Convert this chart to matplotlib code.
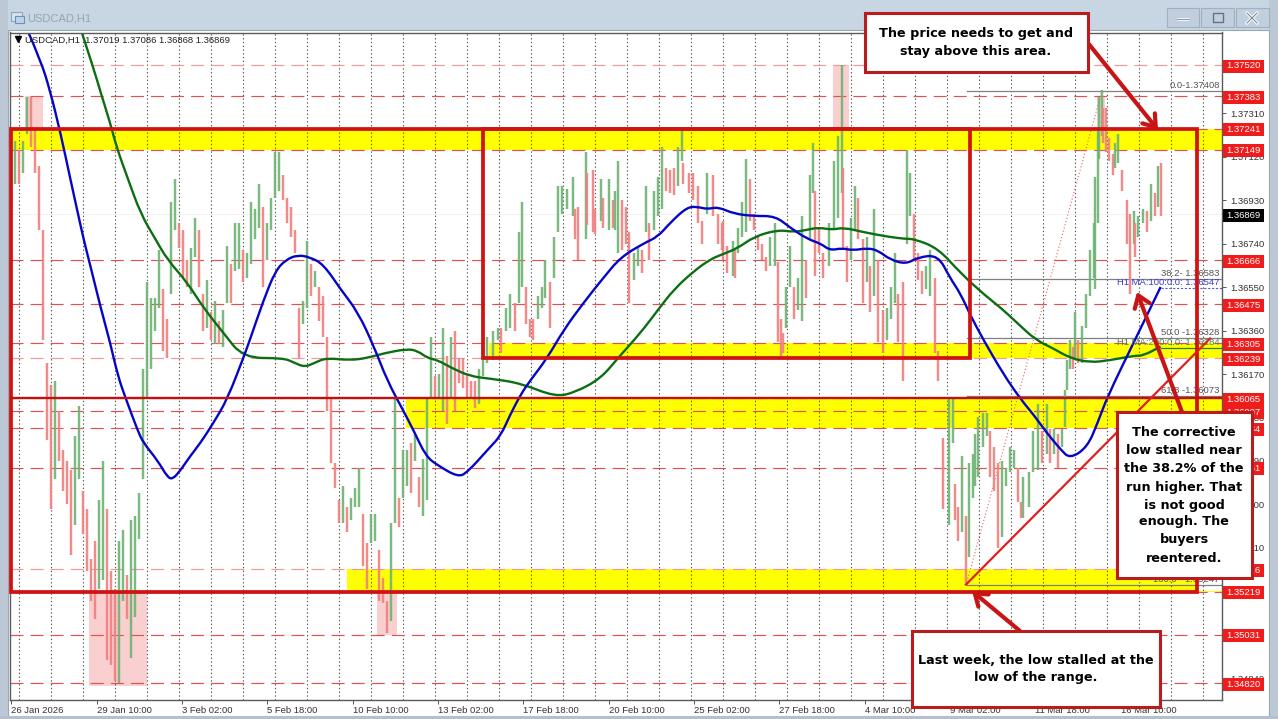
import matplotlib
matplotlib.use("Agg")
import matplotlib.pyplot as plt
from matplotlib.patches import Rectangle, FancyArrowPatch, PathPatch
from matplotlib.path import Path
from matplotlib.collections import LineCollection
import numpy as np

plt.rcParams['font.family'] = ['Liberation Sans', 'DejaVu Sans']

# ---- candles: bar index, high, low in pips above 1.0000 ----
bars_a = list(range(0, 360, 3))
highs_a = [3710,3719,3715,3719,3738,3738,3724,3708,3680,3622,3612,3614,3601,3584,3579,3575,3590,3603,3566,3558,
           3536,3544,3562,3579,3558,3531,3523,3544,3549,3529,3553,3555,3565,3619,3657,3650,3650,3671,3654,3641,
           3692,3702,3683,3680,3667,3672,3685,3680,3652,3658,3644,3649,3640,3645,3673,3665,3683,3683,3671,3670,
           3692,3689,3700,3690,3683,3694,3714,3714,3704,3694,3690,3680,3646,3649,3675,3665,3662,3655,3651,3633,
           3606,3578,3562,3568,3559,3563,3567,3576,3556,3543,3556,3556,3540,3528,3518,3552,3606,3563,3584,3584,
           3587,3591,3572,3580,3606,3633,3616,3617,3637,3625,3633,3636,3624,3624,3617,3614,3614,3619,3629,3633]
lows_a = [3691,3700,3700,3705,3722,3716,3705,3680,3632,3588,3558,3571,3579,3566,3560,3538,3551,3571,3547,3531,
          3518,3510,3523,3527,3492,3490,3483,3482,3518,3510,3493,3511,3545,3571,3606,3619,3636,3646,3627,3624,
          3652,3680,3672,3659,3655,3652,3668,3655,3636,3637,3632,3630,3630,3629,3648,3648,3662,3663,3657,3659,
          3665,3676,3681,3655,3667,3680,3694,3697,3693,3683,3677,3670,3624,3639,3646,3651,3655,3640,3633,3601,
          3578,3567,3552,3552,3548,3553,3559,3559,3533,3523,3543,3544,3518,3517,3504,3509,3552,3550,3563,3568,
          3565,3579,3559,3555,3562,3607,3606,3607,3601,3595,3607,3601,3613,3611,3607,3606,3602,3604,3616,3622]

bars_b = [361,365,367,371,374,378,381,383,386,389,391,395,398,400,404,407,410,413,417,421,423,425,431,432,436,438,
          442,444,448,451,453,455,458,461,463,467,470,473,476,478,482,485,488,491,494,497,500,503,504,508,511,515,
          518,522,526,530,533]
highs_b = [3636,3637,3637,3646,3652,3648,3679,3692,3655,3641,3641,3651,3655,3667,3657,3677,3699,3699,3698,3703,3689,3690,3714,3705,3706,3689,
           3702,3694,3702,3693,3697,3710,3693,3690,3679,3670,3673,3671,3699,3683,3697,3703,3716,3707,3706,3707,3716,3723,3709,3705,3705,3699,
           3684,3705,3704,3687,3683]
lows_b = [3623,3632,3626,3636,3637,3636,3648,3655,3639,3633,3632,3641,3646,3650,3637,3659,3679,3687,3689,3686,3676,3667,3676,3682,3679,3678,
          3684,3681,3680,3681,3680,3670,3671,3674,3648,3658,3664,3661,3679,3667,3680,3686,3689,3697,3696,3695,3699,3710,3700,3696,3693,3683,
          3674,3687,3686,3674,3671]

bars_c = [534,537,541,543,545,548,551,554,557,560,563,566,569,573,575,577,579,581,584,587,590,593,596,599,601,603,
          606,609,613,617,620,623,624,627,630,633,635,639,642,644,647,650,654,657,660,663,665,669,672,674,677,680,
          683,686,689,693,695]
highs_c = [3684,3673,3675,3671,3681,3692,3711,3702,3687,3677,3674,3668,3677,3683,3666,3641,3635,3655,3673,3655,3659,3686,3667,3704,3718,3697,
           3681,3670,3683,3710,3721,3752,3707,3673,3685,3699,3694,3676,3677,3664,3689,3667,3645,3646,3655,3670,3652,3657,3715,3705,3687,3670,
           3662,3664,3671,3659,3627]
lows_c = [3667,3661,3660,3659,3670,3677,3679,3684,3680,3671,3667,3662,3664,3664,3631,3624,3626,3637,3655,3641,3645,3640,3650,3676,3696,3660,
          3670,3659,3664,3681,3685,3696,3672,3657,3667,3680,3676,3648,3657,3644,3651,3631,3626,3632,3641,3648,3631,3614,3674,3686,3667,3658,
          3652,3654,3651,3626,3614]

bars_d = [699,703,706,708,710,713,716,718,721,723,725,729,732,734,737,740,743,746,749,752,755,757,759,763,766,770,
          773,777,779,782,785,788,790,792,794,796,798,800,803,806,809,812,813,815,816,818,819,821,823,826,828,830,
          833,837,839,842,843,845,849,852,855,858,860,862]
highs_d = [3589,3606,3606,3569,3559,3581,3555,3578,3582,3591,3598,3600,3600,3592,3585,3578,3579,3576,3585,3584,3576,3561,3572,3574,3592,3604,
           3592,3604,3593,3593,3591,3593,3610,3623,3632,3629,3644,3632,3638,3652,3671,3683,3703,3724,3738,3741,3733,3733,3720,3713,3718,3722,
           3706,3693,3687,3688,3683,3686,3689,3688,3700,3696,3708,3709]
lows_d = [3558,3551,3587,3553,3544,3548,3525,3537,3563,3568,3572,3585,3590,3572,3566,3541,3546,3568,3574,3576,3561,3554,3554,3559,3574,3575,
          3578,3582,3578,3582,3576,3585,3594,3610,3619,3619,3623,3622,3622,3637,3651,3659,3654,3683,3711,3721,3718,3714,3710,3704,3707,3709,
          3697,3674,3652,3674,3668,3677,3683,3679,3684,3686,3690,3686]

assert len(bars_a) == len(highs_a) == len(lows_a), (len(bars_a), len(highs_a), len(lows_a))
assert len(bars_b) == len(highs_b) == len(lows_b), (len(bars_b), len(highs_b), len(lows_b))
assert len(bars_c) == len(highs_c) == len(lows_c), (len(bars_c), len(highs_c), len(lows_c))
assert len(bars_d) == len(highs_d) == len(lows_d), (len(bars_d), len(highs_d), len(lows_d))

# ---- moving averages ----
ma100_bars = [13,22,29,37,44,50,55,59,67,74,80,86,95,99,110,117,121,127,134,142,152,162,174,179,189,198,206,215,224,234,
              247,260,272,282,294,302,311,320,335,342,359,367,374,382,389,402,414,429,444,457,474,485,494,507,515,522,
              530,542,557,573,584,597,607,614,623,631,642,650,659,671,680,695,704,712,719,729,744,757,767,777,787,794,
              807,815,822,842,862]
ma100_vals = [3766,3754,3741,3722,3703,3687,3674,3665,3646,3631,3616,3606,3592,3587,3579,3572,3571,3575,3581,3587,3596,3606,3624,3632,3649,3662,3667,3669,3668,3665,
              3654,3644,3629,3614,3601,3592,3581,3577,3572,3574,3585,3590,3599,3608,3614,3624,3636,3648,3659,3668,3674,3677,3683,3690,3690,3689,
              3690,3687,3686,3686,3681,3676,3674,3671,3672,3671,3672,3671,3667,3665,3668,3669,3659,3652,3643,3632,3617,3606,3599,3591,3584,3580,
              3585,3596,3607,3631,3655]
ma200_bars = [53,62,67,74,79,87,97,108,117,132,144,159,174,204,212,220,228,236,254,267,279,297,305,312,320,329,344,359,382,
              408,423,442,455,472,485,497,512,524,532,545,557,575,587,597,605,616,624,639,657,671,677,695,712,731,742,
              755,768,782,794,809,824,842,849,862]
ma200_vals = [3766,3750,3740,3727,3716,3703,3687,3676,3667,3657,3646,3635,3624,3624,3622,3620,3622,3624,3623,3624,3626,3628,3627,3624,3623,3620,3616,3615,3613,
              3607,3609,3615,3624,3635,3645,3654,3662,3667,3669,3672,3677,3680,3679,3680,3681,3680,3681,3679,3677,3676,3676,3672,3661,3651,3646,
              3639,3632,3628,3624,3622,3623,3625,3625,3629]

# ---- levels ----
level_prices = [1.37520,1.37383,1.37241,1.37149,1.36666,1.36475,1.36305,1.36239,1.36065,1.36007,1.35934,1.35761,1.35316,1.35219,1.35031,1.34820]
light_levels = [1.37520,1.36239,1.35316]
tick_prices = [1.37500,1.37310,1.37120,1.36930,1.36740,1.36550,1.36360,1.36170,1.35980,1.35790,1.35600,1.35410,1.35220,1.35030,1.34840]
last_price = 1.36869
date_labels = ['26 Jan 2026','29 Jan 10:00','3 Feb 02:00','5 Feb 18:00','10 Feb 10:00','13 Feb 02:00','17 Feb 18:00',
               '20 Feb 10:00','25 Feb 02:00','27 Feb 18:00','4 Mar 10:00','9 Mar 02:00','11 Mar 18:00','16 Mar 10:00']
date_bars = [0,64,128,192,256,320,384,448,512,576,640,704,768,832]
grid_bars = list(range(6, 900, 24))

zone_start = [-2,358,296,252]
zone_end = [908,908,908,889]
zone_top = [1.37241,1.36305,1.36065,1.35316]
zone_bot = [1.37149,1.36239,1.35934,1.35219]

pink_start = [10,58,274,616,814]
pink_end = [24,102,289,628,820]
pink_top = [1.37383,1.35219,1.35219,1.37520,1.37383]
pink_bot = [1.37241,1.34805,1.35031,1.37241,1.37241]

fib_names = ['0.0-1.37408','38.2- 1.36583','50.0 -1.36328','61.8 -1.36073','100.0 - 1.35247']
fib_prices = [1.37408,1.36583,1.36328,1.36073,1.35247]
fib_start = 717

# ---- geometry ----
W, H = 1278, 719
px = 4.36893e-5
L, R, T, B = 9.5, 1221.5, 32.5, 700.0
fig = plt.figure(figsize=(W/100, H/100), dpi=100, facecolor='#c8d5e3')

bg = fig.add_axes([0, 0, 1, 1], zorder=0)
bg.set_xlim(0, W); bg.set_ylim(H, 0); bg.axis('off')
bg.add_patch(Rectangle((0, 0), W, 31, fc='#c8d5e3', ec='none'))
bg.add_patch(Rectangle((0, 0), 8, H, fc='#bcc8d6', ec='none'))
bg.add_patch(Rectangle((1269, 0), 9, H, fc='#bcc8d6', ec='none'))
bg.add_patch(Rectangle((8, 30), 1261, 686, fc='white', ec='#9aa6b2', lw=0.8))
bg.add_patch(Rectangle((0, 716), W, 3, fc='#b6c0cc', ec='none'))
# title bar
bg.add_patch(Rectangle((11, 12), 11, 9, fc='#d5e3f0', ec='#8aa6c2', lw=0.8))
bg.add_patch(Rectangle((15, 16), 9, 7, fc='#bcd4ea', ec='#6f8fb0', lw=0.8))
bg.text(27, 18.5, 'USDCAD,H1', fontsize=8, color='#98a4b0', va='center', ha='left')
for x0, x1 in [(1167, 1199), (1201, 1234), (1236, 1269)]:
    bg.add_patch(Rectangle((x0, 8), x1-x0, 19, fc='#c0cede', ec='#9fb0c2', lw=0.8))
bg.plot([1177, 1189], [19, 19], color='#f0f4f8', lw=2.2, solid_capstyle='butt')
bg.plot([1177, 1189], [19, 19], color='#7a8896', lw=0.6)
bg.add_patch(Rectangle((1213, 13), 10, 9, fc='none', ec='#66727f', lw=1))
bg.plot([1247, 1257], [13, 23], color='#f0f4f8', lw=2.4)
bg.plot([1247, 1257], [23, 13], color='#f0f4f8', lw=2.4)
bg.plot([1247, 1257], [13, 23], color='#6a7684', lw=0.6)
bg.plot([1247, 1257], [23, 13], color='#6a7684', lw=0.6)

ax = fig.add_axes([L/W, 1-B/H, (R-L)/W, (B-T)/H], zorder=1)
ax.set_facecolor('white')
ax.set_xlim((L-11.3)/(4/3), (R-11.3)/(4/3))
ax.set_ylim(1.3752-(B-65)*px, 1.3752+(65-T)*px)
for s in ax.spines.values():
    s.set_color('#5a5a5a'); s.set_linewidth(1.0)
ax.yaxis.tick_right()
ax.set_yticks(tick_prices)
ax.set_yticklabels([f'{p:.5f}' for p in tick_prices], fontsize=6.8, color='#333333')
ax.set_xticks(date_bars)
ax.set_xticklabels(date_labels, fontsize=6.8, color='#333333', ha='left')
ax.tick_params(axis='y', length=3, width=0.7, color='#555555', pad=3.2)
ax.tick_params(axis='x', length=3, width=0.7, color='#555555', pad=1.5)

# background bands
for a, b, t, m in zip(pink_start, pink_end, pink_top, pink_bot):
    ax.add_patch(Rectangle((a, m), b-a, t-m, fc='#f9cfcf', ec='none', zorder=1))
for a, b, t, m in zip(zone_start, zone_end, zone_top, zone_bot):
    ax.add_patch(Rectangle((a, m), b-a, t-m, fc='#ffff00', ec='none', zorder=1.1))
ax.add_patch(Rectangle((889, 1.35219), 19, 0.00005, fc='#ffff00', ec='none', zorder=1.1))

# grid
for g in grid_bars:
    ax.axvline(g, color='#555555', lw=0.8, ls=(0, (1.2, 2.2)), zorder=1.2)
ax.axhline(last_price, color='#f2f2f2', lw=0.8, zorder=1.0)

# levels
for p in level_prices:
    light = p in light_levels
    ax.axhline(p, color='#f09a9a' if light else '#e25050', lw=0.85, ls=(0, (11, 6)), zorder=1.3)

# fib
for n, p in zip(fib_names, fib_prices):
    ax.plot([fib_start, ax.get_xlim()[1]], [p, p], color='#808080', lw=0.9, zorder=1.4)
    ax.text(0.9985, p + 5.5*px, n, transform=ax.get_yaxis_transform(), fontsize=6.8, color='#555555',
            ha='right', va='center', zorder=1.5)
ax.plot([716, 818], [1.35247, 1.37408], color='#e86060', lw=0.8, ls=(0, (1, 2)), zorder=1.4)

# candles
b_all = np.array(bars_a + bars_b + bars_c + bars_d, float)
h_all = 1 + np.array(highs_a + highs_b + highs_c + highs_d) / 1e4
l_all = 1 + np.array(lows_a + lows_b + lows_c + lows_d) / 1e4
mid = (h_all + l_all) / 2
up = np.r_[True, mid[1:] > mid[:-1]]
segs = [[(x, lo), (x, hi)] for x, lo, hi in zip(b_all, l_all, h_all)]
cols = [(0.44, 0.70, 0.46, 0.92) if u else (0.95, 0.50, 0.50, 0.92) for u in up]
ax.add_collection(LineCollection(segs, colors=cols, linewidths=1.75, zorder=2, capstyle='butt'))

# moving averages, drawn as smooth curves through the read points
def curve(xs, ys, color, z):
    pts = np.column_stack([xs, ys])
    verts = [pts[0]]
    codes = [Path.MOVETO]
    for i in range(1, len(pts)-1):
        verts += [pts[i], (pts[i] + pts[i+1]) / 2]
        codes += [Path.CURVE3, Path.CURVE3]
    verts.append(pts[-1]); codes.append(Path.LINETO)
    ax.add_patch(PathPatch(Path(verts, codes), fc='none', ec=color, lw=1.7, zorder=z))

curve(ma200_bars, 1+np.array(ma200_vals)/1e4, '#0c6e12', 2.3)
curve(ma100_bars, 1+np.array(ma100_vals)/1e4, '#0505c8', 2.4)
xr = ax.get_xlim()[1]
ax.plot([862, xr], [1.36547, 1.36547], color='#5a5ae0', lw=0.8, ls=(0, (2, 1.5)), zorder=2.2)
ax.plot([862, xr], [1.36284, 1.36284], color='#2e7d32', lw=0.9, zorder=2.2)
ax.text(0.9985, 1.36547 + 5*px, 'H1 MA:100:0.0: 1.36547', transform=ax.get_yaxis_transform(), fontsize=6.8,
        color='#3a3ad0', ha='right', va='center', zorder=2.5)
ax.text(0.9985, 1.36284 + 5*px, 'H1 MA:200:0.0: 1.36284', transform=ax.get_yaxis_transform(), fontsize=6.8,
        color='#4f7f4f', ha='right', va='center', zorder=2.5)

# drawn boxes (on price/time coordinates)
RED = '#d01212'
ax.add_patch(Rectangle((-0.45, 1.35219), 889.5, 1.37241-1.35219, fc='none', ec=RED, lw=2.7, zorder=3, clip_on=False))
ax.add_patch(Rectangle((354, 1.36239), 365, 1.37241-1.36239, fc='none', ec=RED, lw=2.7, zorder=3))
ax.plot([-0.45, xr], [1.36065, 1.36065], color='#c01010', lw=1.7, zorder=3)
ax.plot([716, 899], [1.35250, 1.36325], color='#e02020', lw=1.6, zorder=3)

# header
ax.plot([5], [1.3752+(65-39)*px], marker='v', color='black', ms=4.5, zorder=5)
ax.text(0.0125, 0.989, 'USDCAD,H1  1.37019 1.37086 1.36868 1.36869', transform=ax.transAxes, fontsize=6.8,
        color='#222222', ha='left', va='center', zorder=5)

# price tags
yt = ax.get_yaxis_transform()
tag_h = 13*px
frac = 1.2/(R-L); tag_w = 41.5/(R-L)
for p in level_prices + [last_price]:
    c = 'black' if p == last_price else '#f01c1c'
    ax.add_patch(Rectangle((1+frac, p+1*(-px)-tag_h/2), tag_w, tag_h, transform=yt, fc=c, ec='none', zorder=6, clip_on=False))
    ax.text(1+frac+3.5/(R-L), p-1*px, f'{p:.5f}', transform=yt, fontsize=6.8, color='white', ha='left', va='center',
            zorder=7, clip_on=False)

# overlay: call-outs
ov = fig.add_axes([0, 0, 1, 1], zorder=5)
ov.set_xlim(0, W); ov.set_ylim(H, 0); ov.axis('off'); ov.patch.set_alpha(0)

def arrow(p0, p1):
    ov.add_patch(FancyArrowPatch(p0, p1, arrowstyle='->,head_length=3.4,head_width=2.4', color='#c81414',
                                 lw=3.0, mutation_scale=2.4, shrinkA=0, shrinkB=0, zorder=2))

arrow((1088, 43), (1158, 130))
arrow((1182, 412), (1137, 292))
arrow((1020, 631), (972, 591))

def box(x0, y0, x1, y1, lines, ys, cx):
    ov.add_patch(Rectangle((x0, y0), x1-x0, y1-y0, fc='white', ec='#b81c1c', lw=2.2, zorder=3))
    for t, y in zip(lines, ys):
        ov.text(cx, y, t, fontsize=9.2, fontweight='bold', family='DejaVu Sans', color='black',
                ha='center', va='center', zorder=4)

box(865, 13, 1088, 72, ['The price needs to get and', 'stay above this area.'], [33, 52], 976)
box(1117, 412, 1252, 578,
    ['The corrective', 'low stalled near', 'the 38.2% of the', 'run higher. That', 'is not good', 'enough. The', 'buyers', 'reentered.'],
    [432, 450, 468, 487, 505, 522, 540, 558], 1184)
box(912, 631, 1160, 707, ['Last week, the low stalled at the', 'low of the range.'], [660, 678], 1036)

fig.savefig('out.png', dpi=100, facecolor=fig.get_facecolor())
